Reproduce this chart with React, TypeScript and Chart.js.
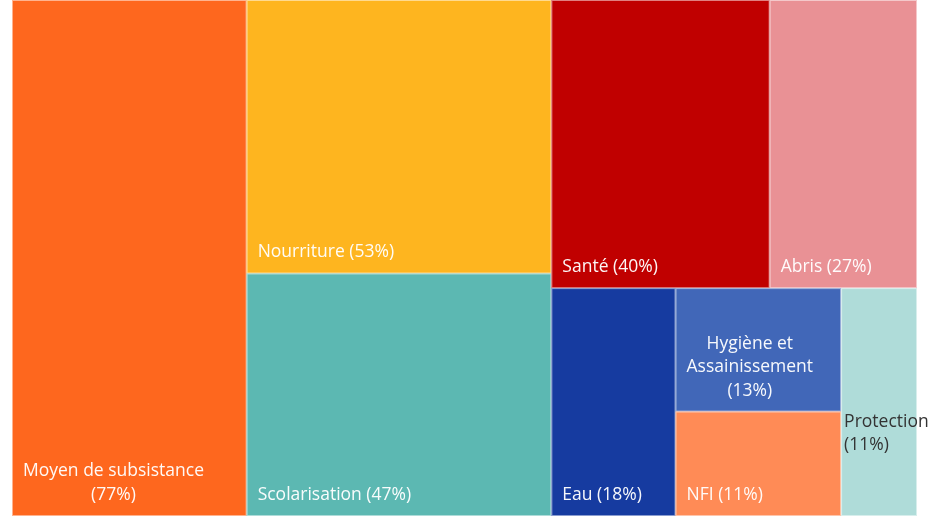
import React, { useEffect, useRef } from "react";
import { Chart, registerables } from "chart.js";

Chart.register(...registerables);

// ---- Data ----
const categories = [
  "Moyen de subsistance",
  "Nourriture",
  "Scolarisation",
  "Santé",
  "Abris",
  "Eau",
  "Hygiène et Assainissement",
  "NFI",
  "Protection",
];
const values = [77, 53, 47, 40, 27, 18, 13, 11, 11];
const colors = [
  "#FE671E",
  "#FEB51F",
  "#5CB8B2",
  "#C00000",
  "#E99195",
  "#163BA0",
  "#4167B8",
  "#FF8B56",
  "#AFDCD9",
];
// how each label is broken into lines (text pieces only)
const labelBreaks: string[][] = [
  ["Moyen de subsistance"],
  [],
  [],
  [],
  [],
  [],
  ["Hygiène et", "Assainissement"],
  [],
  ["Protection"],
];

// Treemap split structure (indices into the arrays above)
type Node = number | { dir: "h" | "v"; children: Node[] };
const layoutTree: Node = {
  dir: "h",
  children: [
    0,
    { dir: "v", children: [1, 2] },
    {
      dir: "v",
      children: [
        { dir: "h", children: [3, 4] },
        { dir: "h", children: [5, { dir: "v", children: [6, 7] }, 8] },
      ],
    },
  ],
};

function nodeSum(n: Node): number {
  if (typeof n === "number") return values[n];
  return n.children.reduce((s, c) => s + nodeSum(c), 0);
}

type Cell = { i: number; x0: number; x1: number; y0: number; y1: number };
function layout(n: Node, x0: number, y0: number, x1: number, y1: number, out: Cell[]) {
  if (typeof n === "number") {
    out.push({ i: n, x0, x1, y0, y1 });
    return;
  }
  const total = nodeSum(n);
  let acc = 0;
  n.children.forEach((c) => {
    const s = nodeSum(c);
    const a = acc / total;
    const b = (acc + s) / total;
    if (n.dir === "h") layout(c, x0 + (x1 - x0) * a, y0, x0 + (x1 - x0) * b, y1, out);
    else layout(c, x0, y0 + (y1 - y0) * a, x1, y0 + (y1 - y0) * b, out);
    acc += s;
  });
}

function labelLines(i: number): string[] {
  const pct = `(${values[i]}%)`;
  const br = labelBreaks[i];
  if (br.length === 0) return [`${categories[i]} ${pct}`];
  return [...br, pct];
}

const FONT = "17.5px 'Open Sans', sans-serif";

const treemapPlugin = {
  id: "treemapCells",
  afterDatasetsDraw(chart: any) {
    const { ctx, scales } = chart;
    const xs = scales.x;
    const ys = scales.y;
    const cells: Cell[] = [];
    layout(layoutTree, 0, 0, 1, 1, cells);
    const rect = (c: Cell) => {
      const px0 = xs.getPixelForValue(c.x0);
      const px1 = xs.getPixelForValue(c.x1);
      const py0 = ys.getPixelForValue(c.y0);
      const py1 = ys.getPixelForValue(c.y1);
      return {
        l: Math.min(px0, px1),
        r: Math.max(px0, px1),
        t: Math.min(py0, py1),
        b: Math.max(py0, py1),
      };
    };
    ctx.save();
    cells.forEach((c) => {
      const { l, r, t, b } = rect(c);
      ctx.fillStyle = colors[c.i];
      ctx.fillRect(l, t, r - l, b - t);
      ctx.strokeStyle = "rgba(255,255,255,0.5)";
      ctx.lineWidth = 1;
      ctx.strokeRect(l + 0.5, t + 0.5, r - l - 1, b - t - 1);
    });
    // labels
    ctx.font = FONT;
    ctx.textBaseline = "middle";
    const lineH = 23.5;
    cells.forEach((c) => {
      const { l, r, t, b } = rect(c);
      const lines = labelLines(c.i);
      const widths = lines.map((s) => ctx.measureText(s).width);
      const blockW = Math.max(...widths);
      const narrow = blockW + 20 > r - l;
      if (narrow) {
        ctx.fillStyle = "#333333";
        ctx.textAlign = "left";
        const lastY = b - 71;
        lines.forEach((s, k) => ctx.fillText(s, l + 3, lastY - (lines.length - 1 - k) * 22.5));
      } else {
        ctx.fillStyle = "rgba(255,255,255,0.96)";
        ctx.textAlign = "center";
        const cx = l + 11 + blockW / 2;
        const lastY = b - 21;
        lines.forEach((s, k) => ctx.fillText(s, cx, lastY - (lines.length - 1 - k) * lineH));
      }
    });
    ctx.restore();
  },
};

export default function App() {
  const ref = useRef<HTMLCanvasElement | null>(null);
  useEffect(() => {
    if (!ref.current) return;
    const chart = new Chart(ref.current, {
      type: "scatter",
      data: {
        datasets: [
          {
            data: categories.map(() => ({ x: 0, y: 0 })),
            pointRadius: 0,
            pointHoverRadius: 0,
          },
        ],
      },
      options: {
        animation: false,
        responsive: false,
        layout: { padding: { left: 12, right: 16, top: 0, bottom: 3 } },
        scales: {
          x: { type: "linear", min: 0, max: 1, display: false },
          y: { type: "linear", min: 0, max: 1, reverse: true, display: false },
        },
        plugins: { legend: { display: false }, tooltip: { enabled: false } },
      },
      plugins: [treemapPlugin],
    });
    return () => chart.destroy();
  }, []);
  return (
    <div style={{ position: "fixed", left: 0, top: 0, width: 933, height: 519, background: "#fff" }}>
      <canvas ref={ref} width={933} height={519} style={{ display: "block" }} />
    </div>
  );
}
